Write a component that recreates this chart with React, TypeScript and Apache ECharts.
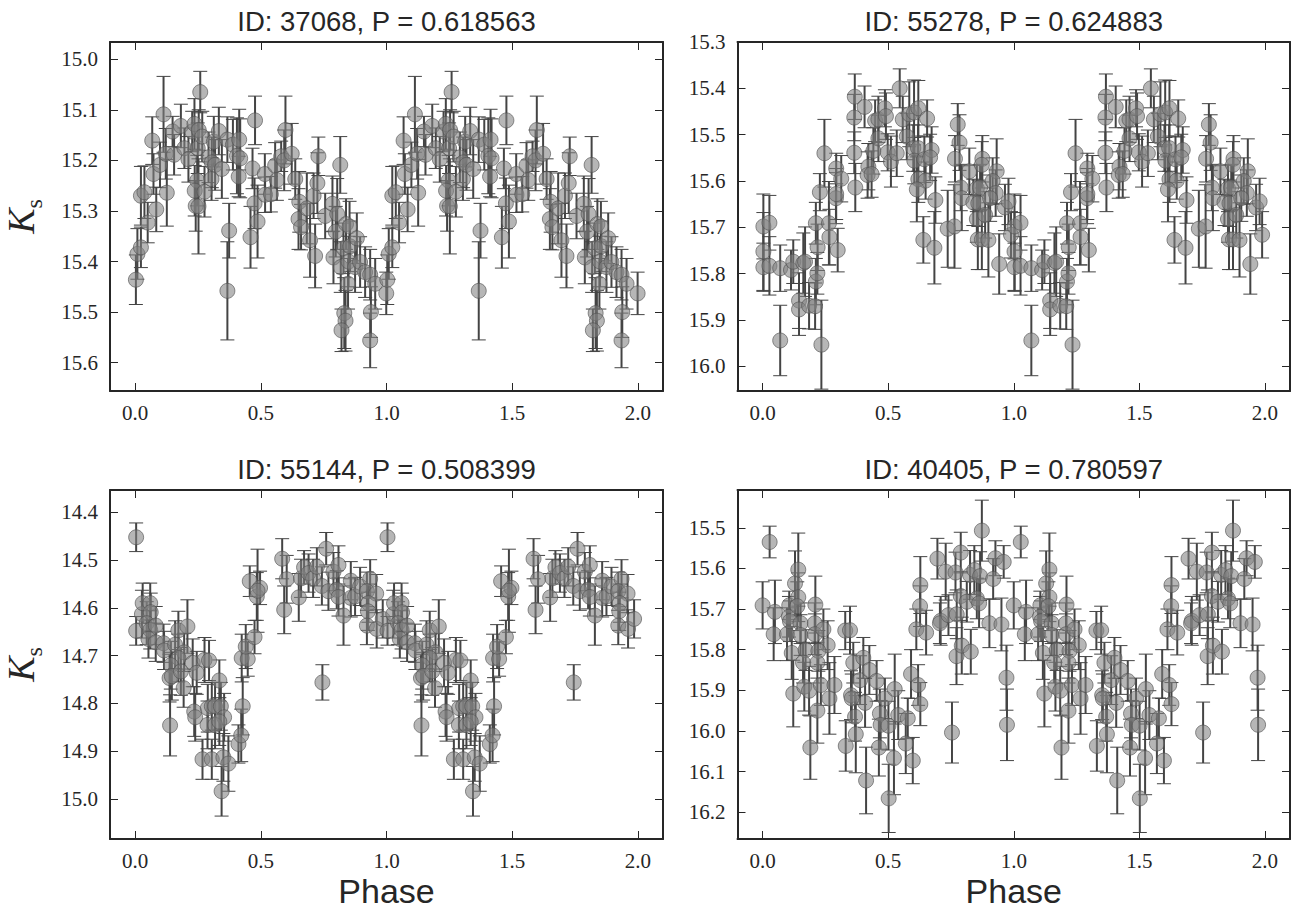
import React, { useEffect, useRef } from "react";
import * as echarts from "echarts";

const titles = ["ID: 37068, P = 0.618563", "ID: 55278, P = 0.624883", "ID: 55144, P = 0.508399", "ID: 40405, P = 0.780597"];
const phaseTicks = [0, 0.5, 1, 1.5, 2];
const ticks37068 = [15.0, 15.1, 15.2, 15.3, 15.4, 15.5, 15.6];
const ticks55278 = [15.3, 15.4, 15.5, 15.6, 15.7, 15.8, 15.9, 16.0];
const ticks55144 = [14.4, 14.5, 14.6, 14.7, 14.8, 14.9, 15.0];
const ticks40405 = [15.5, 15.6, 15.7, 15.8, 15.9, 16.0, 16.1, 16.2];
const range37068 = [14.966, 15.656];
const range55278 = [15.3, 16.053];
const range55144 = [14.353, 15.084];
const range40405 = [15.407, 16.266];

// [phase, Ks, error]
const obs37068 = [
[.003,15.436,.049],[.009,15.385,.05],[.023,15.372,.04],[.023,15.27,.058],[.037,15.263,.052],[.05,15.323,.04],[.068,15.161,.047],[.073,15.227,.04],[.084,15.297,.044],[.099,15.209,.045],
[.113,15.109,.075],[.122,15.187,.05],[.126,15.264,.066],[.149,15.143,.03],[.155,15.189,.04],[.182,15.132,.043],[.196,15.176,.04],[.212,15.198,.045],[.227,15.143,.04],[.236,15.128,.05],
[.259,15.065,.041],[.249,15.176,.05],[.253,15.14,.04],[.267,15.153,.05],[.247,15.24,.05],[.237,15.26,.05],[.276,15.262,.05],[.241,15.29,.05],[.252,15.291,.094],[.292,15.194,.05],
[.305,15.204,.05],[.318,15.209,.05],[.304,15.237,.042],[.345,15.217,.058],[.313,15.163,.05],[.333,15.142,.047],[.367,15.159,.045],[.389,15.169,.05],[.414,15.159,.06],[.405,15.191,.075],
[.418,15.196,.078],[.412,15.232,.04],[.374,15.339,.054],[.367,15.458,.097],[.477,15.121,.048],[.467,15.216,.04],[.475,15.285,.05],[.459,15.352,.061],[.487,15.321,.072],[.516,15.227,.04],
[.517,15.268,.035],[.54,15.267,.035],[.557,15.21,.045],[.564,15.239,.04],[.581,15.192,.03],[.593,15.2,.06],[.598,15.14,.067],[.623,15.187,.06],[.637,15.237,.04],[.653,15.282,.06],
[.65,15.316,.06],[.66,15.332,.045],[.683,15.295,.07],[.696,15.358,.073],[.71,15.27,.045],[.725,15.245,.06],[.716,15.389,.063],[.729,15.192,.038],[.756,15.31,.045],[.785,15.286,.055],
[.804,15.306,.07],[.816,15.209,.056],[.798,15.341,.05],[.789,15.392,.052],[.818,15.411,.05],[.829,15.374,.05],[.839,15.326,.05],[.853,15.331,.05],[.855,15.37,.05],[.882,15.354,.05],
[.849,15.4,.05],[.875,15.411,.05],[.895,15.401,.05],[.915,15.421,.05],[.935,15.426,.05],[.955,15.444,.05],[.832,15.502,.07],[.837,15.517,.06],[.821,15.536,.042],[.847,15.444,.05],
[.938,15.5,.05],[.935,15.556,.054],[.999,15.463,.042]];

const obs55278 = [
[.003,15.698,.07],[.027,15.69,.059],[.003,15.752,.084],[.003,15.786,.052],[.027,15.783,.063],[.07,15.788,.05],[.07,15.944,.076],[.113,15.792,.043],[.122,15.774,.047],[.145,15.858,.06],
[.145,15.877,.056],[.162,15.777,.065],[.169,15.774,.075],[.185,15.869,.05],[.209,15.87,.05],[.212,15.817,.05],[.218,15.799,.045],[.219,15.743,.05],[.212,15.691,.045],[.228,15.624,.04],
[.246,15.54,.073],[.234,15.953,.096],[.264,15.691,.09],[.266,15.721,.06],[.292,15.637,.055],[.293,15.628,.055],[.293,15.573,.033],[.313,15.595,.05],[.299,15.749,.047],[.365,15.539,.045],
[.365,15.463,.05],[.367,15.418,.049],[.369,15.614,.052],[.406,15.44,.045],[.421,15.569,.05],[.418,15.587,.05],[.434,15.585,.05],[.441,15.535,.05],[.448,15.47,.045],[.461,15.508,.05],
[.461,15.467,.05],[.487,15.443,.04],[.491,15.46,.05],[.498,15.538,.04],[.511,15.558,.055],[.534,15.54,.05],[.546,15.4,.042],[.558,15.467,.05],[.574,15.504,.05],[.584,15.456,.07],
[.603,15.452,.07],[.62,15.443,.06],[.6,15.529,.05],[.619,15.529,.05],[.604,15.556,.05],[.644,15.553,.05],[.673,15.533,.05],[.667,15.549,.05],[.655,15.465,.04],[.62,15.596,.05],
[.649,15.599,.04],[.614,15.618,.07],[.688,15.641,.05],[.64,15.727,.05],[.684,15.744,.078],[.737,15.703,.083],[.764,15.698,.09],[.766,15.552,.05],[.777,15.478,.045],[.784,15.517,.06],
[.789,15.614,.05],[.793,15.637,.07],[.823,15.579,.05],[.839,15.646,.05],[.853,15.682,.05],[.853,15.616,.05],[.866,15.614,.05],[.859,15.648,.05],[.857,15.726,.065],[.873,15.726,.065],
[.899,15.727,.08],[.875,15.552,.05],[.873,15.565,.05],[.886,15.673,.05],[.932,15.579,.07],[.916,15.6,.05],[.928,15.626,.05],[.906,15.637,.05],[.942,15.779,.065],[.965,15.657,.05],
[.979,15.644,.05],[.989,15.716,.05]];

const obs55144 = [
[.004,14.452,.03],[.004,14.648,.03],[.027,14.613,.05],[.03,14.59,.042],[.06,14.59,.042],[.062,14.609,.04],[.046,14.632,.045],[.06,14.646,.04],[.082,14.637,.04],[.053,14.665,.04],
[.082,14.672,.04],[.113,14.674,.04],[.115,14.689,.04],[.172,14.647,.04],[.208,14.639,.056],[.159,14.677,.05],[.195,14.693,.04],[.172,14.705,.05],[.142,14.72,.05],[.137,14.747,.05],
[.146,14.743,.05],[.182,14.733,.05],[.193,14.768,.04],[.229,14.715,.05],[.245,14.736,.045],[.276,14.709,.047],[.294,14.71,.042],[.139,14.846,.064],[.235,14.817,.052],[.239,14.829,.05],
[.289,14.81,.05],[.305,14.806,.05],[.318,14.806,.05],[.341,14.806,.05],[.354,14.829,.05],[.335,14.752,.043],[.288,14.845,.05],[.318,14.845,.05],[.335,14.838,.05],[.268,14.917,.042],
[.305,14.917,.042],[.351,14.913,.05],[.371,14.926,.058],[.344,14.984,.052],[.411,14.885,.04],[.422,14.867,.055],[.428,14.806,.06],[.424,14.705,.05],[.448,14.707,.036],[.44,14.681,.046],
[.475,14.661,.035],[.456,14.544,.032],[.484,14.576,.05],[.497,14.558,.035],[.487,14.564,.087],[.585,14.497,.042],[.593,14.604,.05],[.603,14.54,.05],[.651,14.578,.05],[.66,14.538,.04],
[.672,14.515,.035],[.69,14.527,.04],[.708,14.538,.04],[.723,14.514,.04],[.743,14.554,.04],[.76,14.476,.034],[.745,14.756,.037],[.769,14.565,.04],[.789,14.524,.04],[.809,14.51,.04],
[.802,14.562,.04],[.809,14.577,.04],[.829,14.616,.062],[.858,14.543,.04],[.858,14.579,.04],[.875,14.576,.04],[.895,14.555,.04],[.935,14.539,.04],[.922,14.565,.04],[.959,14.57,.04],
[.928,14.59,.04],[.926,14.607,.04],[.922,14.637,.04],[.961,14.644,.04],[.985,14.623,.04]];

const obs40405 = [
[0,15.691,.058],[.028,15.535,.039],[.044,15.762,.065],[.049,15.707,.078],[.097,15.762,.065],[.106,15.691,.035],[.105,15.719,.05],[.109,15.73,.05],[.116,15.808,.065],[.122,15.908,.082],
[.129,15.637,.08],[.142,15.603,.09],[.142,15.671,.06],[.138,15.693,.06],[.151,15.735,.05],[.151,15.764,.05],[.171,15.801,.05],[.161,15.832,.05],[.166,15.891,.06],[.185,15.901,.06],
[.21,15.689,.07],[.208,15.735,.05],[.208,15.762,.05],[.242,15.75,.05],[.259,15.789,.06],[.222,15.803,.05],[.218,15.832,.05],[.232,15.887,.05],[.218,15.95,.08],[.19,16.041,.078],
[.266,15.92,.088],[.286,15.887,.07],[.329,15.753,.047],[.348,15.752,.059],[.361,15.832,.05],[.352,15.912,.06],[.355,15.92,.06],[.388,15.875,.06],[.331,16.037,.062],[.368,15.965,.06],
[.371,16.008,.095],[.401,15.82,.05],[.425,15.85,.06],[.408,15.931,.06],[.412,16.122,.082],[.454,15.877,.05],[.487,15.92,.05],[.467,15.957,.06],[.47,15.985,.06],[.463,16.041,.07],
[.501,15.987,.06],[.526,15.897,.086],[.54,15.961,.06],[.523,16.067,.09],[.502,16.166,.084],[.578,15.969,.05],[.57,16.031,.074],[.598,16.073,.057],[.591,15.86,.06],[.619,15.887,.05],
[.628,15.934,.053],[.612,15.75,.05],[.651,15.758,.055],[.627,15.693,.05],[.628,15.641,.07],[.696,15.576,.05],[.709,15.729,.06],[.706,15.735,.05],[.729,15.608,.07],[.74,15.715,.05],
[.768,15.61,.05],[.772,15.816,.07],[.773,15.713,.06],[.789,15.561,.05],[.789,15.668,.06],[.793,15.79,.07],[.829,15.805,.055],[.813,15.682,.05],[.826,15.616,.06],[.843,15.604,.06],
[.866,15.619,.06],[.853,15.674,.05],[.862,15.686,.06],[.873,15.507,.075],[.754,16.004,.075],[.903,15.735,.06],[.918,15.626,.05],[.927,15.575,.043],[.96,15.584,.04],[.951,15.738,.065],
[.971,15.869,.08],[.973,15.985,.088]];

const panels = [
  { title: titles[0], obs: obs37068, ticks: ticks37068, range: range37068, left: 110, top: 42, width: 553, ylabel: true, xlabel: false },
  { title: titles[1], obs: obs55278, ticks: ticks55278, range: range55278, left: 737.5, top: 42, width: 552.5, ylabel: false, xlabel: false },
  { title: titles[2], obs: obs55144, ticks: ticks55144, range: range55144, left: 110, top: 490, width: 553, ylabel: true, xlabel: true },
  { title: titles[3], obs: obs40405, ticks: ticks40405, range: range40405, left: 737.5, top: 490, width: 552.5, ylabel: false, xlabel: true },
];

const INK = "#262626";
const SANS = "'Liberation Sans', Arial, sans-serif";
const SERIF = "'Liberation Serif', 'Times New Roman', serif";
const HEIGHT = 349;
const TICK_LENGTH = 8;

function errorBars(params: any, api: any) {
  const x = api.value(0), y = api.value(1), e = api.value(2);
  const a = api.coord([x, y - e]);
  const b = api.coord([x, y + e]);
  const cap = 7;
  const stroke = "#444444";
  return {
    type: "group",
    children: [
      { type: "line", shape: { x1: a[0], y1: a[1], x2: b[0], y2: b[1] }, style: { stroke, lineWidth: 2 } },
      { type: "line", shape: { x1: a[0] - cap, y1: a[1], x2: a[0] + cap, y2: a[1] }, style: { stroke, lineWidth: 1 } },
      { type: "line", shape: { x1: b[0] - cap, y1: b[1], x2: b[0] + cap, y2: b[1] }, style: { stroke, lineWidth: 1 } },
    ],
  };
}

function buildOption() {
  const grid: any[] = [], xAxis: any[] = [], yAxis: any[] = [], series: any[] = [], title: any[] = [];
  const line = { show: true, onZero: false, lineStyle: { color: INK, width: 2 } };
  const tick = (values: number[]) => ({ show: true, inside: true, length: TICK_LENGTH, customValues: values, lineStyle: { color: INK, width: 1 } });
  panels.forEach((p, i) => {
    grid.push({ left: p.left, top: p.top, width: p.width, height: HEIGHT, containLabel: false, outerBoundsMode: "none" });
    title.push({ text: p.title, left: p.left + p.width / 2, top: p.top - 35, padding: 0, textAlign: "center", textStyle: { fontFamily: SANS, fontSize: 27.5, fontWeight: "normal", color: INK } });
    const xBase = { type: "value", gridIndex: i, min: -0.1, max: 2.1, splitLine: { show: false }, axisLine: line, axisTick: tick(phaseTicks) };
    xAxis.push({
      ...xBase,
      axisLabel: { show: true, customValues: phaseTicks, margin: 11, fontFamily: SERIF, fontSize: 21, color: INK, formatter: (v: number) => v.toFixed(1) },
      ...(p.xlabel ? { name: "Phase", nameLocation: "middle", nameGap: 37, nameTextStyle: { fontFamily: SANS, fontSize: 34, lineHeight: 30, color: INK, verticalAlign: "top" } } : {}),
    });
    xAxis.push({ ...xBase, position: "top", axisLabel: { show: false } });
    const yBase = { type: "value", gridIndex: i, min: p.range[0], max: p.range[1], inverse: true, splitLine: { show: false }, axisLine: line, axisTick: tick(p.ticks) };
    yAxis.push({
      ...yBase,
      axisLabel: { show: true, customValues: p.ticks, margin: 12, fontFamily: SERIF, fontSize: 21, color: INK, formatter: (v: number) => v.toFixed(1) },
      ...(p.ylabel ? {
        name: "{k|K}{s|s}", nameLocation: "middle", nameRotate: 90, nameGap: 70,
        nameTextStyle: { rich: {
          k: { fontFamily: SERIF, fontStyle: "italic", fontSize: 38, color: INK, verticalAlign: "bottom", lineHeight: 44 },
          s: { fontFamily: SERIF, fontSize: 24, color: INK, verticalAlign: "bottom", lineHeight: 24, padding: [0, 0, -6, 0] },
        } },
      } : {}),
    });
    yAxis.push({ ...yBase, position: "right", axisLabel: { show: false } });
    const doubled = [...p.obs, ...p.obs.map((o) => [o[0] + 1, o[1], o[2]])];
    const axes = { xAxisIndex: 2 * i, yAxisIndex: 2 * i, silent: true };
    series.push({ type: "custom", ...axes, clip: true, data: doubled, encode: { x: 0, y: 1 }, renderItem: errorBars });
    series.push({
      type: "scatter", ...axes, clip: true, data: doubled.map((o) => [o[0], o[1]]), symbol: "circle", symbolSize: 15,
      itemStyle: { color: "rgba(128,128,128,0.72)", borderColor: "#505050", borderWidth: 0.8 },
    });
  });
  return { animation: false, title, grid, xAxis, yAxis, series, tooltip: { show: false } };
}

export default function App() {
  const ref = useRef<HTMLDivElement>(null);
  useEffect(() => {
    const chart = echarts.init(ref.current!, undefined, { renderer: "svg" });
    chart.setOption(buildOption() as any);
    return () => chart.dispose();
  }, []);
  return <div ref={ref} style={{ position: "absolute", left: 0, top: 0, width: 1294, height: 909 }} />;
}
